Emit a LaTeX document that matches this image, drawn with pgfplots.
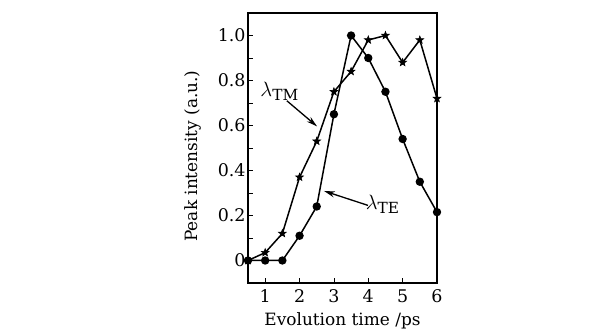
\documentclass[border=0pt]{standalone}
\usepackage{fontspec}
\setmainfont{DejaVu Serif}
\usepackage{pgfplots}
\pgfplotsset{compat=1.18}
\usetikzlibrary{arrows.meta}
\pgfdeclareplotmark{fstar}{%
  \pgfpathmoveto{\pgfpointpolar{90}{\pgfplotmarksize}}%
  \pgfpathlineto{\pgfpointpolar{126}{0.42\pgfplotmarksize}}%
  \pgfpathlineto{\pgfpointpolar{162}{\pgfplotmarksize}}%
  \pgfpathlineto{\pgfpointpolar{198}{0.42\pgfplotmarksize}}%
  \pgfpathlineto{\pgfpointpolar{234}{\pgfplotmarksize}}%
  \pgfpathlineto{\pgfpointpolar{270}{0.42\pgfplotmarksize}}%
  \pgfpathlineto{\pgfpointpolar{306}{\pgfplotmarksize}}%
  \pgfpathlineto{\pgfpointpolar{342}{0.42\pgfplotmarksize}}%
  \pgfpathlineto{\pgfpointpolar{18}{\pgfplotmarksize}}%
  \pgfpathlineto{\pgfpointpolar{54}{0.42\pgfplotmarksize}}%
  \pgfpathclose
  \pgfusepathqfillstroke}
\begin{document}
\begin{tikzpicture}[font=\fontsize{17}{21}\selectfont]
\path[use as bounding box] (0,0) rectangle (615bp,330bp);
\begin{axis}[
  at={(248bp,47bp)}, anchor=south west,
  scale only axis, width=189bp, height=270bp,
  xmin=0.5, xmax=6, ymin=-0.1, ymax=1.1,
  xtick={1,2,3,4,5,6},
  ytick={0,0.2,0.4,0.6,0.8,1.0},
  yticklabels={0,0.2,0.4,0.6,0.8,1.0},
  minor ytick={-0.1,0.1,0.3,0.5,0.7,0.9},
  xtick pos=left, ytick pos=left,
  tick align=inside,
  major tick length=5bp, minor tick length=5bp,
  every tick/.style={black, line width=0.8bp},
  axis line style={line width=1.6bp},
  /pgf/number format/assume math mode=true,
  tick label style={font=\fontsize{17.5}{21}\selectfont},
  label style={font=\fontsize{17}{21}\selectfont},
  xlabel={Evolution time /ps},
  ylabel={Peak intensity (a.u.)},
  xlabel style={at={(axis description cs:0.5,0)}, anchor=base, yshift=-42bp},
  ylabel style={at={(axis description cs:-0.29,0.47)}, anchor=center},
  xticklabel style={anchor=base, yshift=-19bp},
  yticklabel style={xshift=1bp},
  clip=false,
]
\addplot[black, line width=1.5bp, mark=fstar, mark size=4bp, mark options={line width=0.6bp}]
coordinates {(0.5,0) (1,0.035) (1.5,0.12) (2,0.37) (2.5,0.53) (3,0.75) (3.5,0.84) (4,0.98) (4.5,1.0) (5,0.88) (5.5,0.98) (6,0.72)};
\addplot[black, line width=1.5bp, mark=*, mark size=3.4bp]
coordinates {(0.5,0) (1,0) (1.5,0) (2,0.11) (2.5,0.24) (3,0.65) (3.5,1.0) (4,0.9) (4.5,0.75) (5,0.54) (5.5,0.35) (6,0.215)};
\node[font=\fontsize{22}{26}\selectfont] at (axis cs:1.42,0.75) {$\lambda_{\mathrm{TM}}$};
\draw[-{Stealth[length=11bp,width=6bp]}, line width=1.3bp] (axis cs:1.63,0.71) -- (axis cs:2.51,0.596);
\node[font=\fontsize{22}{26}\selectfont] at (axis cs:4.42,0.25) {$\lambda_{\mathrm{TE}}$};
\draw[-{Stealth[length=11bp,width=6bp]}, line width=1.3bp] (axis cs:3.99,0.245) -- (axis cs:2.71,0.309);
\end{axis}
\end{tikzpicture}
\end{document}
